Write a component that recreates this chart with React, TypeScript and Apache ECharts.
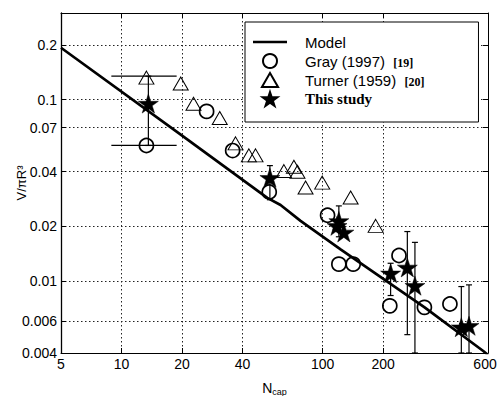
import React, { useEffect, useRef } from 'react';
import * as echarts from 'echarts';

const xTickValues = [5, 10, 20, 40, 100, 200];
const xLabelValues = [5, 10, 20, 40, 100, 200, 600];
const yTickValues = [0.004, 0.006, 0.01, 0.02, 0.04, 0.07, 0.1, 0.2];

const modelN = [5, 19.7, 53.1, 61.8, 77.7, 122.9, 321.7, 632, 665];
const modelV = [0.193, 0.0641, 0.0287, 0.0262, 0.0214, 0.01492, 0.00714, 0.00409, 0.0039];

const grayN = [13.3, 26.5, 35.7, 54.3, 105.9, 120.5, 142, 240, 216, 321, 430];
const grayV = [0.0558, 0.086, 0.0523, 0.0309, 0.023, 0.01236, 0.01236, 0.0138, 0.00728, 0.00714, 0.00745];

const turnerN = [13.3, 19.7, 22.8, 30.8, 36.9, 43.0, 46.4, 64.2, 72, 75, 82.3, 99.6, 137.9, 183.6];
const turnerV = [0.132, 0.1225, 0.0947, 0.079, 0.0573, 0.0492, 0.0492, 0.0403, 0.0426, 0.04, 0.0327, 0.0348, 0.0288, 0.0201];

const studyN = [13.6, 54.7, 118, 120.5, 127.6, 218, 264, 288, 490, 535];
const studyV = [0.095, 0.037, 0.0201, 0.0214, 0.0185, 0.011, 0.01186, 0.0094, 0.00555, 0.00565];

// vertical error bars (This study): N, low, high
const vErrN = [13.6, 54.7, 120.5, 218, 264, 288, 490, 535];
const vErrLow = [0.0558, 0.028, 0.0175, 0.0083, 0.00505, 0.004, 0.004, 0.004];
const vErrHigh = [0.1345, 0.0432, 0.0259, 0.0125, 0.0187, 0.0163, 0.0093, 0.0095];

// horizontal error bars: V, N low, N high
const hErrV = [0.1345, 0.0558];
const hErrLow = [8.9, 8.9];
const hErrHigh = [18.8, 18.8];

const STAR = 'path://M50,0 L61.2,34.5 L97.6,34.5 L68.2,55.9 L79.4,90.5 L50,69.1 L20.6,90.5 L31.8,55.9 L2.4,34.5 L38.8,34.5 Z';
const TRI = 'path://M50,0 L100,87 L0,87 Z';
const LINE_ICON = 'path://M0,0 L40,0 L40,3 L0,3 Z';
const SANS = 'Liberation Sans, Arial, sans-serif';
const SERIF = 'Liberation Serif, Times New Roman, serif';

const gridLine = { show: true, lineStyle: { color: '#222', width: 1, type: [1.5, 2.5] } };

export default function App() {
  const ref = useRef<HTMLDivElement>(null);
  useEffect(() => {
    if (!ref.current) return;
    const chart = echarts.init(ref.current, null, { renderer: 'svg' });
    const fmtNum = (v: number) => {
      const r = parseFloat(v.toPrecision(3));
      if (r === 600) return '{r|600}';
      return String(r);
    };
    const option: any = {
      animation: false,
      backgroundColor: '#fff',
      grid: { left: 61, right: 14, top: 13, bottom: 43, containLabel: false, outerBoundsMode: 'none' },
      xAxis: [
        {
          type: 'log', logBase: 10, min: 5, max: 665, position: 'bottom',
          name: '{n|N}{s|cap}', nameLocation: 'middle', nameGap: 27, nameMoveOverlap: false,
          nameTextStyle: {
            color: '#000',
            rich: {
              n: { fontFamily: SANS, fontSize: 14, color: '#000', lineHeight: 16 },
              s: { fontFamily: SANS, fontSize: 9, color: '#000', padding: [7, 0, 0, 0], lineHeight: 10 },
            },
          },
          axisLine: { show: true, lineStyle: { color: '#000', width: 1 } },
          axisTick: { show: true, inside: true, length: 5, customValues: xTickValues, lineStyle: { color: '#000' } },
          minorTick: { show: false },
          axisLabel: {
            customValues: xLabelValues, formatter: fmtNum, color: '#000', fontFamily: SANS, fontSize: 14, margin: 4,
            rich: { r: { fontFamily: SANS, fontSize: 14, color: '#000', padding: [0, 0, 0, 12] } },
          },
          splitLine: gridLine,
        },
        {
          type: 'log', logBase: 10, min: 5, max: 665, position: 'top',
          axisLine: { show: true, lineStyle: { color: '#000', width: 1 } },
          axisTick: { show: true, inside: true, length: 5, customValues: xTickValues, lineStyle: { color: '#000' } },
          axisLabel: { show: false },
          splitLine: { show: false },
        },
      ],
      yAxis: [
        {
          type: 'log', logBase: 10, min: 0.004, max: 0.3, position: 'left',
          name: 'V/πR³', nameLocation: 'middle', nameGap: 33, nameRotate: 90, nameMoveOverlap: false,
          nameTextStyle: { color: '#000', fontFamily: SANS, fontSize: 13 },
          axisLine: { show: true, lineStyle: { color: '#000', width: 1.3 } },
          axisTick: { show: true, inside: true, length: 5, customValues: yTickValues, lineStyle: { color: '#000' } },
          minorTick: { show: false },
          axisLabel: { customValues: yTickValues, formatter: fmtNum, color: '#000', fontFamily: SANS, fontSize: 14, margin: 4 },
          splitLine: gridLine,
        },
        {
          type: 'log', logBase: 10, min: 0.004, max: 0.3, position: 'right',
          axisLine: { show: true, lineStyle: { color: '#000', width: 1 } },
          axisTick: { show: true, inside: true, length: 5, customValues: yTickValues, lineStyle: { color: '#000' } },
          axisLabel: { show: false },
          splitLine: { show: false },
        },
      ],
      legend: {
        orient: 'vertical', left: 245, top: 22,
        padding: [12, 54, 15, 8],
        itemWidth: 34, itemHeight: 14, itemGap: 3,
        selectedMode: false,
        backgroundColor: '#fff', borderColor: '#000', borderWidth: 1,
        data: [
          { name: 'Model', icon: LINE_ICON },
          { name: 'Gray (1997) [19]', icon: 'circle' },
          { name: 'Turner (1959) [20]', icon: TRI },
          { name: 'This study', icon: STAR },
        ],
        formatter: (name: string) => {
          if (name === 'Model') return '{a|Model}';
          if (name === 'Gray (1997) [19]') return '{a|Gray (1997)  }{b|[19]}';
          if (name === 'Turner (1959) [20]') return '{a|Turner (1959)  }{b|[20]}';
          return '{c|This study}';
        },
        textStyle: {
          color: '#000', fontFamily: SANS, fontSize: 15, lineHeight: 16, padding: [0, 0, 0, 13],
          rich: {
            a: { fontFamily: SANS, fontSize: 15, color: '#000', lineHeight: 16, verticalAlign: 'bottom' },
            b: { fontFamily: SERIF, fontSize: 12, fontWeight: 'bold', color: '#000', lineHeight: 13, verticalAlign: 'bottom' },
            c: { fontFamily: SERIF, fontSize: 15, fontWeight: 'bold', color: '#000', lineHeight: 16 },
          },
        },
      },
      series: [
        {
          name: 'Model', type: 'line', xAxisIndex: 0, yAxisIndex: 0,
          data: modelN.map((n, i) => [n, modelV[i]]),
          symbol: 'none', showSymbol: false,
          lineStyle: { color: '#000', width: 2.7 }, itemStyle: { color: '#000' },
          clip: true, z: 2,
        },
        {
          name: 'vErr', type: 'custom', xAxisIndex: 0, yAxisIndex: 0, clip: true, z: 3,
          data: vErrN.map((n, i) => [n, vErrLow[i], vErrHigh[i]]),
          encode: { x: 0, y: [1, 2] },
          renderItem: (params: any, api: any) => {
            const x = api.value(0);
            const p1 = api.coord([x, api.value(1)]);
            const p2 = api.coord([x, api.value(2)]);
            const cw = 3;
            const st = { stroke: '#000', lineWidth: 1.2 };
            return {
              type: 'group',
              children: [
                { type: 'line', shape: { x1: p1[0], y1: p1[1], x2: p2[0], y2: p2[1] }, style: st },
                { type: 'line', shape: { x1: p1[0] - cw, y1: p1[1], x2: p1[0] + cw, y2: p1[1] }, style: st },
                { type: 'line', shape: { x1: p2[0] - cw, y1: p2[1], x2: p2[0] + cw, y2: p2[1] }, style: st },
              ],
            };
          },
        },
        {
          name: 'hErr', type: 'custom', xAxisIndex: 0, yAxisIndex: 0, clip: true, z: 3,
          data: hErrV.map((v, i) => [hErrLow[i], hErrHigh[i], v]),
          encode: { x: [0, 1], y: 2 },
          renderItem: (params: any, api: any) => {
            const y = api.value(2);
            const p1 = api.coord([api.value(0), y]);
            const p2 = api.coord([api.value(1), y]);
            return { type: 'line', shape: { x1: p1[0], y1: p1[1], x2: p2[0], y2: p2[1] }, style: { stroke: '#000', lineWidth: 1.2 } };
          },
        },
        {
          name: 'Gray (1997) [19]', type: 'scatter', xAxisIndex: 0, yAxisIndex: 0, z: 4,
          data: grayN.map((n, i) => [n, grayV[i]]),
          symbol: 'circle', symbolSize: 14,
          itemStyle: { color: 'rgba(0,0,0,0)', borderColor: '#000', borderWidth: 1.7, opacity: 1 },
        },
        {
          name: 'Turner (1959) [20]', type: 'scatter', xAxisIndex: 0, yAxisIndex: 0, z: 4,
          data: turnerN.map((n, i) => [n, turnerV[i]]),
          symbol: 'triangle', symbolSize: [15, 13],
          itemStyle: { color: 'rgba(0,0,0,0)', borderColor: '#000', borderWidth: 1, opacity: 1 },
        },
        {
          name: 'This study', type: 'scatter', xAxisIndex: 0, yAxisIndex: 0, z: 5,
          data: studyN.map((n, i) => [n, studyV[i]]),
          symbol: STAR, symbolSize: [20, 19],
          itemStyle: { color: '#000', borderColor: '#000', borderWidth: 0.5, opacity: 1 },
        },
      ],
    };
    chart.setOption(option);
    return () => chart.dispose();
  }, []);
  return <div ref={ref} style={{ position: 'fixed', left: 0, top: 0, width: 502, height: 396, background: '#fff' }} />;
}
